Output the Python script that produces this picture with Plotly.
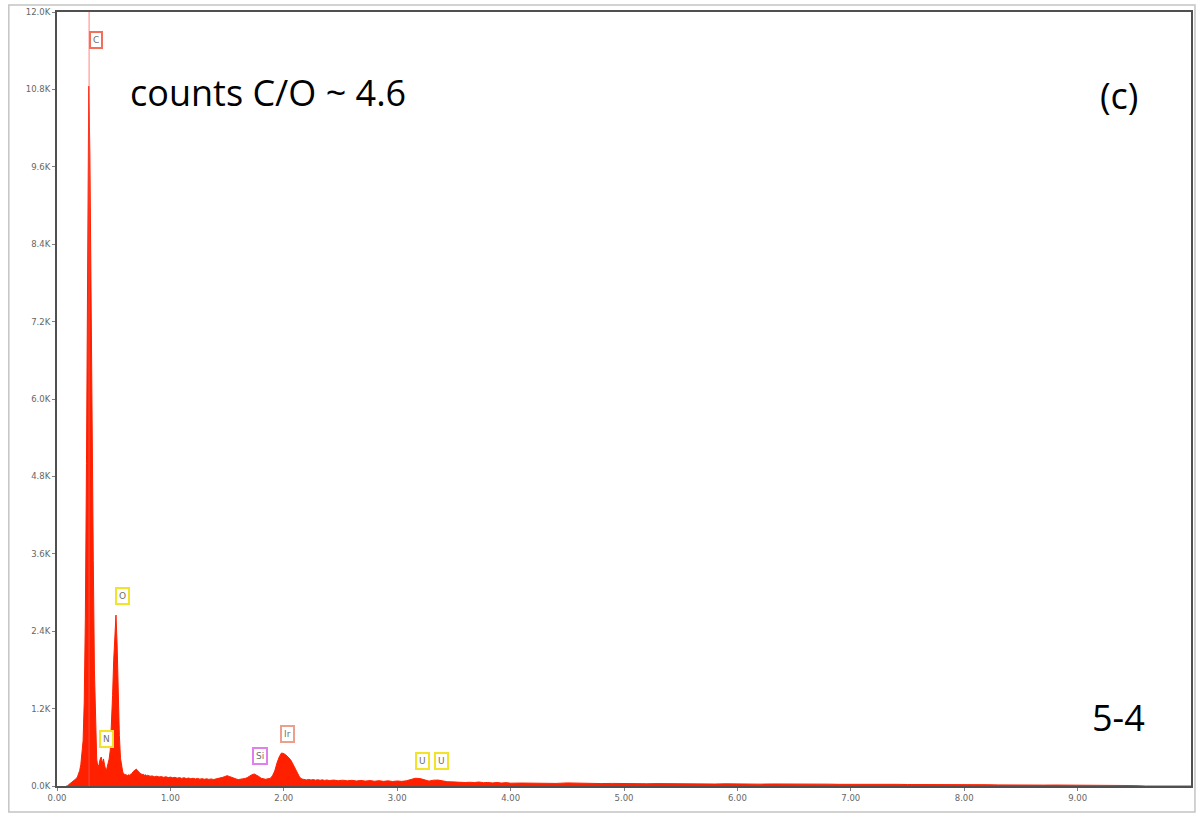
import plotly.graph_objects as go

# EDS spectrum: energy (keV) and counts
energy_kev = [
    0.08, 0.09, 0.10, 0.11, 0.12, 0.13, 0.14, 0.15, 0.16, 0.17, 0.18, 0.19,
    0.20, 0.21, 0.22, 0.23, 0.24, 0.25, 0.26, 0.27, 0.28, 0.29,
    0.30, 0.31, 0.32, 0.33, 0.34, 0.35, 0.36, 0.37, 0.38, 0.39,
    0.40, 0.41, 0.42, 0.43, 0.44, 0.45, 0.46, 0.47, 0.48, 0.49,
    0.50, 0.51, 0.52, 0.53, 0.54, 0.55, 0.56, 0.57, 0.58, 0.59,
    0.60, 0.61, 0.62, 0.63, 0.64, 0.65, 0.66, 0.67, 0.68, 0.69,
    0.70, 0.71, 0.72, 0.73, 0.74, 0.75, 0.76, 0.77, 0.78, 0.79, 0.80,
    0.82, 0.84, 0.86, 0.88, 0.90, 0.92, 0.94, 0.96, 0.98, 1.00,
    1.02, 1.04, 1.06, 1.08, 1.10, 1.12, 1.14, 1.16, 1.18, 1.20,
    1.22, 1.24, 1.26, 1.28, 1.30, 1.32, 1.34, 1.36, 1.38, 1.40,
    1.42, 1.44, 1.46, 1.48, 1.50, 1.52, 1.54, 1.56, 1.58, 1.60,
    1.62, 1.64, 1.66, 1.68, 1.70, 1.72, 1.74, 1.76, 1.78, 1.80,
    1.82, 1.84, 1.86, 1.88, 1.90, 1.92, 1.94, 1.96, 1.98, 2.00,
    2.02, 2.04, 2.06, 2.08, 2.10, 2.12, 2.14, 2.16, 2.18, 2.20,
    2.22, 2.24, 2.26, 2.28, 2.30, 2.32, 2.34, 2.36, 2.38, 2.40,
    2.44, 2.48, 2.52, 2.56, 2.60, 2.64, 2.68, 2.72, 2.76, 2.80,
    2.84, 2.88, 2.92, 2.96, 3.00, 3.04, 3.08, 3.12, 3.16, 3.20,
    3.24, 3.28, 3.32, 3.36, 3.40, 3.44, 3.48, 3.52, 3.56, 3.60,
    3.64, 3.68, 3.72, 3.76, 3.80, 3.84, 3.88, 3.92, 3.96, 4.00,
    4.1, 4.2, 4.3, 4.4, 4.5, 4.6, 4.7, 4.8, 4.9, 5.0,
    5.1, 5.2, 5.3, 5.4, 5.5, 5.6, 5.7, 5.8, 5.9, 6.0,
    6.1, 6.2, 6.3, 6.4, 6.5, 6.6, 6.7, 6.8, 6.9, 7.0,
    7.1, 7.2, 7.3, 7.4, 7.5, 7.6, 7.7, 7.8, 7.9, 8.0,
    8.1, 8.2, 8.3, 8.4, 8.5, 8.6, 8.7, 8.8, 8.9, 9.0,
    9.1, 9.2, 9.3, 9.4, 9.5, 9.6, 10.0,
]
counts = [
    0, 0, 15, 30, 45, 55, 65, 80, 95, 115, 140, 180,
    240, 330, 470, 700, 1300, 2600, 5000, 7800, 10850, 9800,
    7400, 5200, 3500, 1800, 800, 420, 300, 330, 410, 450,
    350, 420, 320, 250, 275, 335, 420, 560, 900, 1400,
    1950, 2450, 2650, 2200, 1400, 780, 430, 280, 215, 190,
    172, 178, 160, 174, 168, 184, 190, 220, 236, 258,
    262, 240, 226, 196, 192, 176, 181, 166, 173, 160, 166,
    152, 156, 144, 152, 140, 146, 134, 144, 130, 138,
    128, 134, 122, 130, 118, 128, 116, 124, 112, 120,
    110, 118, 106, 114, 104, 112, 102, 110, 100, 106,
    112, 118, 134, 146, 160, 148, 134, 114, 108, 100,
    106, 102, 117, 133, 162, 176, 186, 170, 147, 120,
    114, 104, 112, 118, 158, 232, 358, 452, 512, 502,
    478, 442, 408, 342, 268, 182, 134, 108, 104, 94,
    102, 92, 100, 90, 98, 88, 96, 86, 94, 84,
    92, 82, 90, 80, 88, 78, 86, 76, 84, 74,
    82, 72, 80, 70, 78, 72, 80, 96, 120, 116,
    90, 76, 90, 92, 80, 66, 64, 58, 62, 54,
    58, 54, 62, 52, 54, 48, 54, 46, 52, 44,
    46, 42, 44, 40, 48, 42, 40, 38, 40, 36,
    38, 35, 37, 34, 36, 32, 35, 31, 34, 30,
    33, 29, 32, 33, 28, 30, 27, 29, 26, 28,
    25, 27, 24, 26, 23, 24, 22, 23, 20, 22,
    19, 20, 17, 19, 16, 17, 14, 15, 12, 13,
    11, 10, 9, 8, 6, 0, 0,
]

# Element identification labels
element_names = ["C", "O", "N", "Si", "Ir", "U", "U"]
element_x = [0.343, 0.581, 0.44, 1.787, 2.033, 3.22, 3.39]
element_y = [11570, 2950, 730, 470, 810, 390, 390]
element_colors = ["#f0705a", "#f2e22a", "#f2e22a", "#e080ec", "#eba08e", "#f2e22a", "#f2e22a"]

x_tick_vals = [0, 1, 2, 3, 4, 5, 6, 7, 8, 9]
x_tick_text = ["0.00", "1.00", "2.00", "3.00", "4.00", "5.00", "6.00", "7.00", "8.00", "9.00"]
y_tick_vals = [0, 1200, 2400, 3600, 4800, 6000, 7200, 8400, 9600, 10800, 12000]
y_tick_text = ["0.0K", "1.2K", "2.4K", "3.6K", "4.8K", "6.0K", "7.2K", "8.4K", "9.6K", "10.8K", "12.0K"]

carbon_line_kev = 0.283

fig = go.Figure()
fig.add_trace(go.Scatter(
    x=energy_kev, y=counts, mode="lines",
    line=dict(color="rgb(255,32,0)", width=1),
    fill="tozeroy", fillcolor="rgb(255,32,0)",
    hoverinfo="x+y", showlegend=False,
))

# Carbon K-line marker
fig.add_shape(type="line", xref="x", yref="paper",
              x0=carbon_line_kev, x1=carbon_line_kev, y0=0, y1=1,
              line=dict(color="rgba(255,90,90,0.75)", width=1), layer="above")

# Outer panel border
fig.add_shape(type="rect", xref="paper", yref="paper",
              x0=-0.0425, x1=1.0035, y0=-0.0336, y1=1.009,
              line=dict(color="#c4c4c4", width=1.5), layer="below")

for name, ex, ey, col in zip(element_names, element_x, element_y, element_colors):
    fig.add_annotation(
        x=ex, y=ey, xref="x", yref="y", text=name, showarrow=False,
        font=dict(family="DejaVu Sans", size=9, color="#707070"),
        bgcolor="white", bordercolor=col, borderwidth=2, borderpad=2,
    )

big_font = dict(family="Open Sans", size=36, color="black")
fig.add_annotation(x=0.0625, y=0.896, xref="paper", yref="paper",
                   text="counts C/O ~ 4.6", showarrow=False,
                   xanchor="left", yanchor="middle", font=big_font)
fig.add_annotation(x=0.9366, y=0.892, xref="paper", yref="paper",
                   text="(c)", showarrow=False,
                   xanchor="center", yanchor="middle", font=big_font)
fig.add_annotation(x=0.9357, y=0.0879, xref="paper", yref="paper",
                   text="5-4", showarrow=False,
                   xanchor="center", yanchor="middle", font=big_font)

axis_common = dict(
    showgrid=False, zeroline=False, showline=True, mirror=True,
    linecolor="#505050", linewidth=2,
    ticks="outside", ticklen=3, tickcolor="#808080", tickwidth=1,
    tickfont=dict(family="DejaVu Sans", size=8.5, color="#666666"),
)

fig.update_layout(
    width=1198, height=814,
    margin=dict(l=57, r=5, t=12, b=28),
    paper_bgcolor="white", plot_bgcolor="white",
    xaxis=dict(range=[0, 10], tickvals=x_tick_vals, ticktext=x_tick_text, **axis_common),
    yaxis=dict(range=[0, 12000], tickvals=y_tick_vals, ticktext=y_tick_text, **axis_common),
)

fig.write_html("out.html")
